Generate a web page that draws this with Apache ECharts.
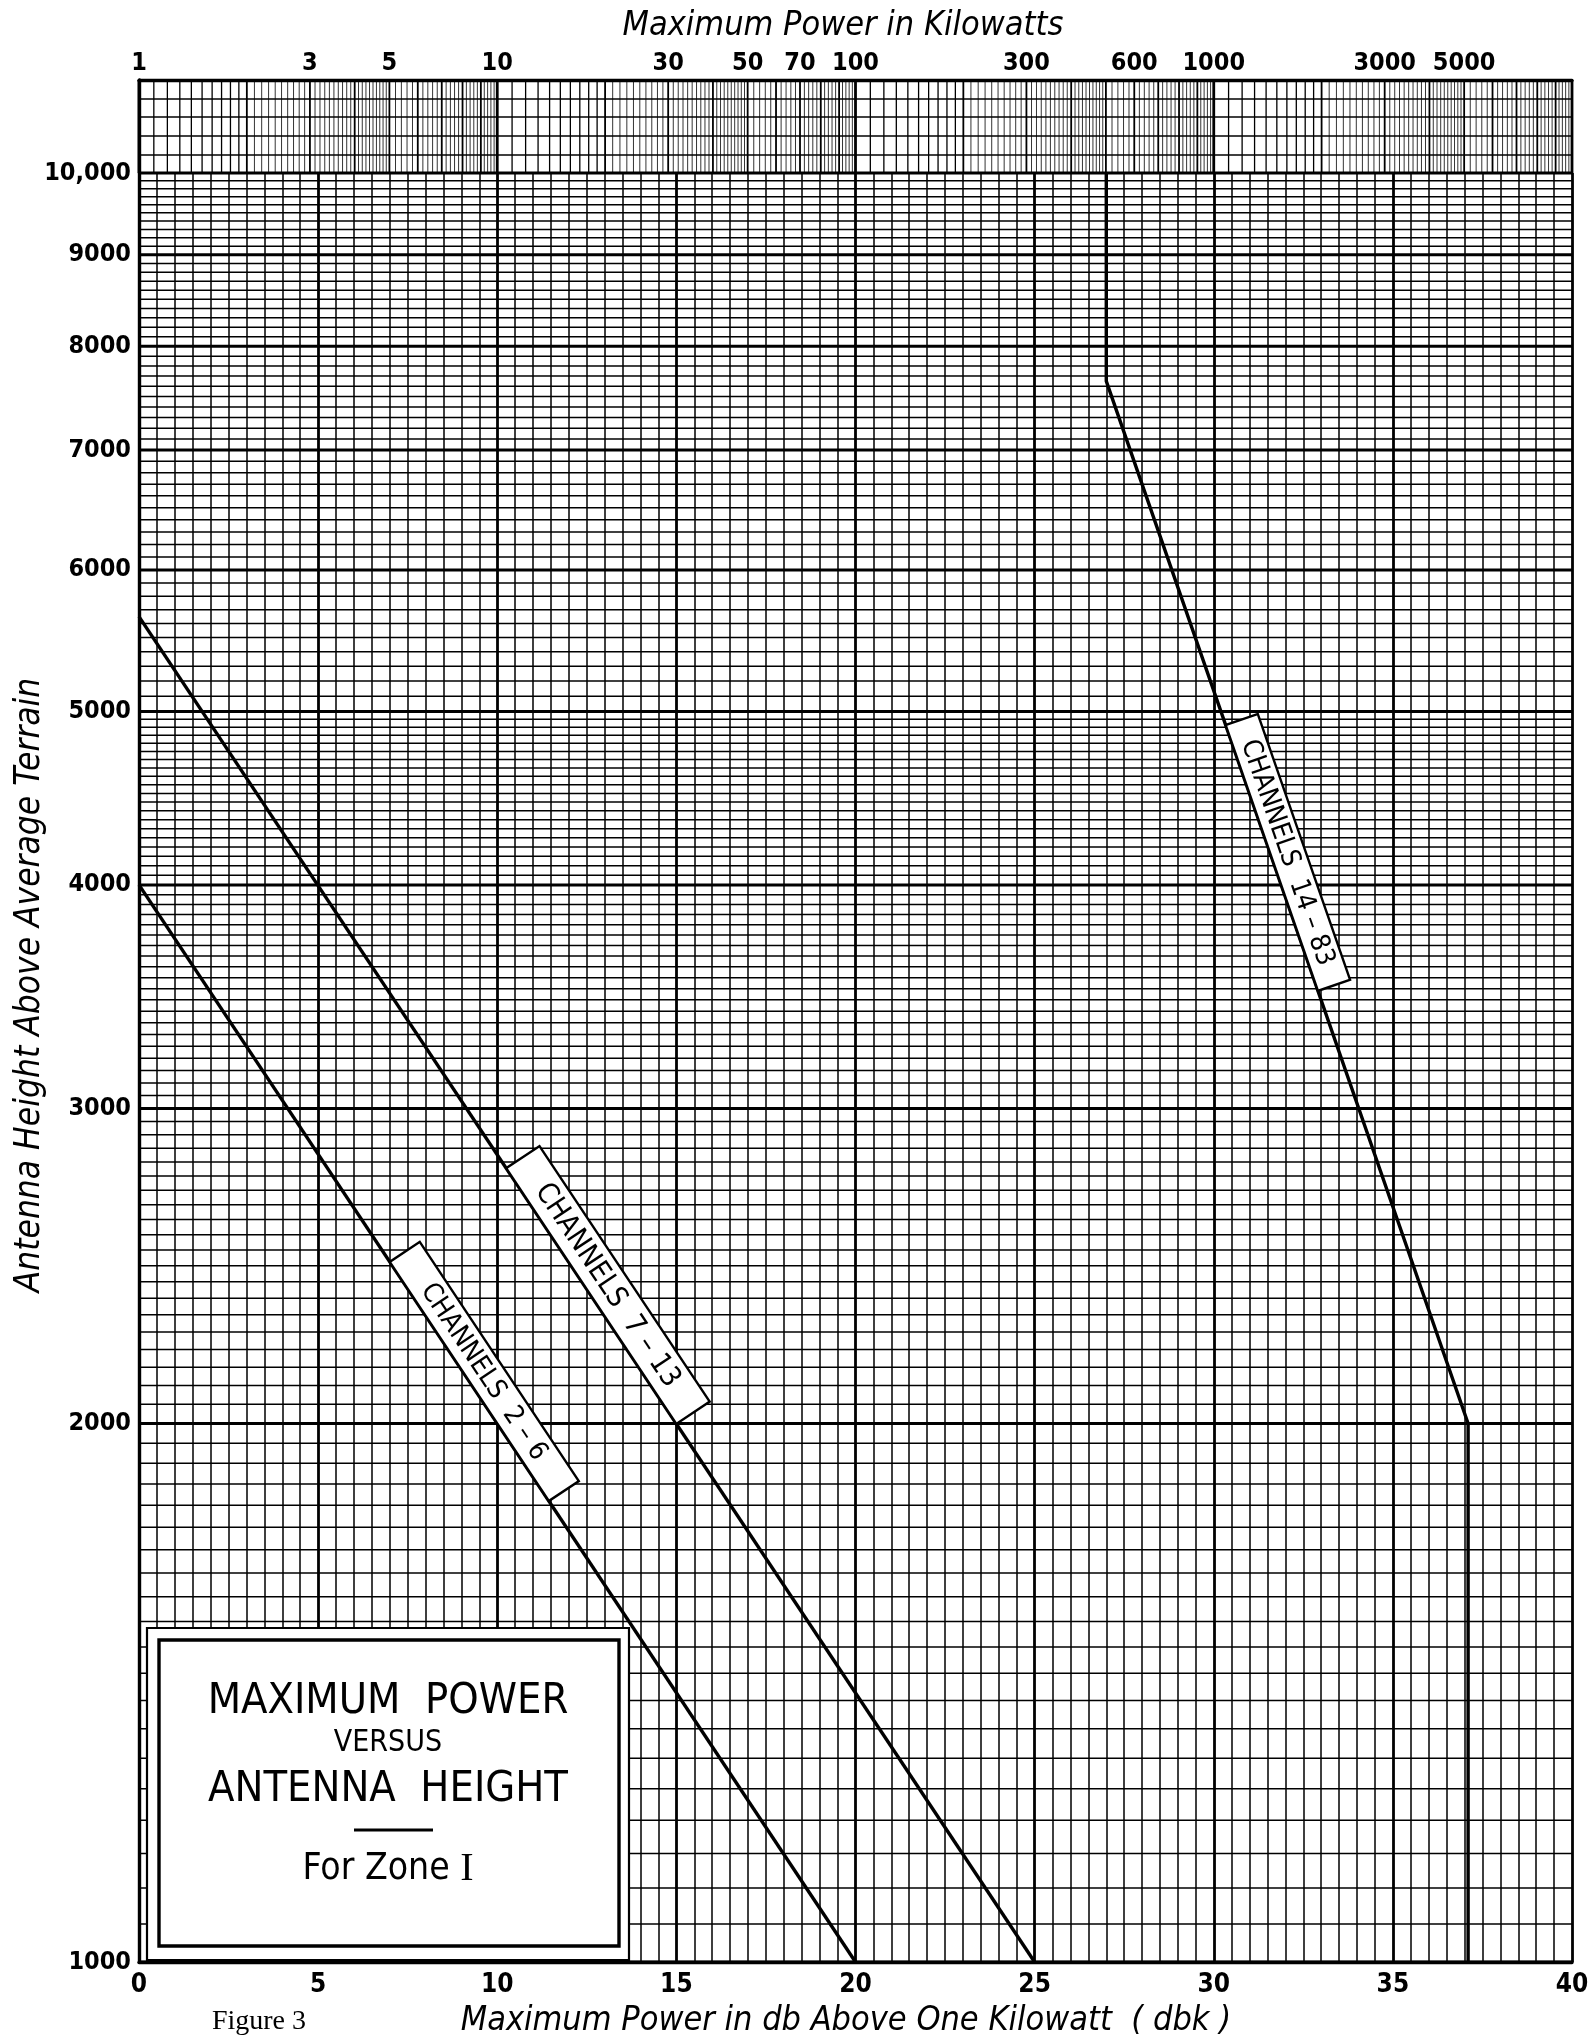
<!DOCTYPE html>
<html><head><meta charset="utf-8">
<script src="https://cdn.jsdelivr.net/npm/echarts@6.0.0/dist/echarts.min.js"></script>
<style>html,body{margin:0;padding:0;background:#fff}#c{width:1592px;height:2038px}</style>
</head><body><div id="c"></div>
<script>
// ---------------- data ----------------
const ch26X = [0, 20];
const ch26Y = [4000, 1000];
const ch713X = [0, 25];
const ch713Y = [5650, 1000];
const ch1483X = [27, 27, 37.1, 37.1];
const ch1483Y = [10000, 7650, 2000, 1000];
const yTickLabels = [1000, 2000, 3000, 4000, 5000, 6000, 7000, 8000, 9000, 10000];
const kwTickLabels = [1, 3, 5, 10, 30, 50, 70, 100, 300, 600, 1000, 3000, 5000];
const lineLabels = ['CHANNELS  2 – 6', 'CHANNELS  7 – 13', 'CHANNELS  14 – 83'];

// ---------------- graph-paper rulings (axis structure) ----------------
const yGridValues = [];
for (let v = 1000; v <= 5000; v += 50) yGridValues.push(v);
for (let v = 5100; v <= 10000; v += 100) yGridValues.push(v);
const kwGridValues = [];
[1, 10, 100, 1000].forEach(d => {
  for (let m = 10; m < 100; m += (m < 50 ? 1 : 2)) kwGridValues.push([+(m * d / 10).toFixed(6), m]);
});
kwGridValues.push([10000, 10]);

// ---------------- styling / layout ----------------
const F = '"Liberation Sans Narrow","DejaVu Sans Condensed","Roboto Condensed","Liberation Sans",sans-serif';
const zip = (xs, ys) => xs.map((x, i) => [x, ys[i]]);
const labelLayout = [
  { p0: [ch26X[0], ch26Y[0]], p1: [ch26X[1], ch26Y[1]], t0: 0.35, t1: 0.572, w: 36, fs: 27 },
  { p0: [ch713X[0], ch713Y[0]], p1: [ch713X[1], ch713Y[1]], t0: 0.41, t1: 0.60, w: 40, fs: 29 },
  { p0: [ch1483X[1], ch1483Y[1]], p1: [ch1483X[2], ch1483Y[2]], t0: 0.33, t1: 0.585, w: 34, fs: 27 }
];
const fmtY = v => v === 10000 ? '10,000' : String(v);

const chart = echarts.init(document.getElementById('c'), null, { renderer: 'canvas' });
const lineSeries = (name, data) => ({
  name, type: 'line', data, xAxisIndex: 0, yAxisIndex: 0, symbol: 'none', z: 5,
  lineStyle: { color: '#000', width: 3.4 }, silent: true, animation: false
});

const option = {
  animation: false,
  backgroundColor: '#fff',
  grid: [
    { left: 139, top: 173, width: 1433, height: 1789, outerBoundsMode: 'none', containLabel: false },
    { left: 139, top: 80, width: 1433, height: 93, outerBoundsMode: 'none', containLabel: false }
  ],
  xAxis: [
    {
      gridIndex: 0, type: 'value', min: 0, max: 40, interval: 5, position: 'bottom',
      axisLine: { show: true, onZero: false, lineStyle: { color: '#000', width: 3.4 } },
      axisTick: { show: false },
      axisLabel: { color: '#000', fontSize: 26, fontWeight: 'bold', fontFamily: F, margin: 10 },
      splitLine: { show: true, lineStyle: { color: '#000', width: 2.8 } },
      minorTick: { show: false, splitNumber: 10 },
      minorSplitLine: { show: true, lineStyle: { color: '#000', width: 1.5 } }
    },
    {
      gridIndex: 1, type: 'log', logBase: 10, min: 1, max: 10000, position: 'top',
      axisLine: { show: true, onZero: false, lineStyle: { color: '#000', width: 3.4 } },
      axisTick: { show: false }, axisLabel: { show: false }, splitLine: { show: false }
    }
  ],
  yAxis: [
    {
      gridIndex: 0, type: 'log', logBase: 10, min: 1000, max: 10000,
      axisLine: { show: true, onZero: false, lineStyle: { color: '#000', width: 3.4 } },
      axisTick: { show: false }, axisLabel: { show: false }, splitLine: { show: false }
    },
    {
      gridIndex: 1, type: 'value', min: 0, max: 5, interval: 1,
      axisLine: { show: true, onZero: false, lineStyle: { color: '#000', width: 3.4 } },
      axisTick: { show: false }, axisLabel: { show: false },
      splitLine: { show: true, lineStyle: { color: '#000', width: 1.5 } }
    }
  ],
  series: [
    { // horizontal rulings of the height scale
      type: 'custom', xAxisIndex: 0, yAxisIndex: 0, silent: true, z: 1, clip: false,
      data: yGridValues.map(v => [0, v]), encode: { x: 0, y: 1 },
      renderItem: (params, api) => {
        const v = api.value(1);
        const a = api.coord([0, v]), b = api.coord([40, v]);
        return { type: 'line', shape: { x1: a[0], y1: a[1], x2: b[0], y2: b[1] },
          style: { stroke: '#000', lineWidth: v % 1000 === 0 ? 3 : 1.5 } };
      }
    },
    { // height tick labels
      type: 'custom', xAxisIndex: 0, yAxisIndex: 0, silent: true, z: 6, clip: false,
      data: yTickLabels.map(v => [0, v]), encode: { x: 0, y: 1 },
      renderItem: (params, api) => {
        const v = api.value(1);
        const p = api.coord([0, v]);
        return { type: 'text', x: p[0] - 8, y: p[1],
          style: { text: fmtY(v), align: 'right', verticalAlign: 'middle', fontSize: 25, fontWeight: 'bold', fontFamily: F, fill: '#000' } };
      }
    },
    { // kW band rulings
      type: 'custom', xAxisIndex: 1, yAxisIndex: 1, silent: true, z: 1, clip: false,
      data: kwGridValues.map(d => [d[0], 0, d[1]]), encode: { x: 0, y: 1 },
      renderItem: (params, api) => {
        const v = api.value(0), m = api.value(2);
        const a = api.coord([v, 0]), b = api.coord([v, 5]);
        const decade = Math.abs(Math.log10(v) - Math.round(Math.log10(v))) < 1e-9;
        const w = decade ? 2.8 : (m % 10 === 0 ? 1.8 : (m < 20 ? 1.3 : 0.8));
        return { type: 'line', shape: { x1: a[0], y1: a[1], x2: b[0], y2: b[1] },
          style: { stroke: '#000', lineWidth: w } };
      }
    },
    { // kW labels
      type: 'custom', xAxisIndex: 1, yAxisIndex: 1, silent: true, z: 6, clip: false,
      data: kwTickLabels.map(v => [v, 5]), encode: { x: 0, y: 1 },
      renderItem: (params, api) => {
        const v = api.value(0);
        const p = api.coord([v, 5]);
        return { type: 'text', x: p[0], y: p[1] - 4,
          style: { text: String(v), align: 'center', verticalAlign: 'bottom', fontSize: 25, fontWeight: 'bold', fontFamily: F, fill: '#000' } };
      }
    },
    lineSeries('Channels 2-6', zip(ch26X, ch26Y)),
    lineSeries('Channels 7-13', zip(ch713X, ch713Y)),
    lineSeries('Channels 14-83', zip(ch1483X, ch1483Y)),
    { // boxed labels along the curves
      type: 'custom', xAxisIndex: 0, yAxisIndex: 0, silent: true, z: 10, clip: false,
      data: lineLabels.map(() => [0, 1000]), encode: { x: 0, y: 1 },
      renderItem: (params, api) => {
        const L = labelLayout[params.dataIndex];
        const a = api.coord(L.p0), b = api.coord(L.p1);
        const dx = b[0] - a[0], dy = b[1] - a[1], len = Math.hypot(dx, dy);
        const ux = dx / len, uy = dy / len;
        const s = [a[0] + dx * L.t0, a[1] + dy * L.t0], e = [a[0] + dx * L.t1, a[1] + dy * L.t1];
        const blen = len * (L.t1 - L.t0);
        const nx = uy, ny = -ux;
        const cx = (s[0] + e[0]) / 2 + nx * L.w / 2, cy = (s[1] + e[1]) / 2 + ny * L.w / 2;
        const ang = Math.atan2(dy, dx);
        return { type: 'group', x: cx, y: cy, rotation: -ang, children: [
          { type: 'rect', shape: { x: -blen / 2, y: -L.w / 2, width: blen, height: L.w },
            style: { fill: '#fff', stroke: '#000', lineWidth: 2.4 } },
          { type: 'text', x: 0, y: 1, style: { text: lineLabels[params.dataIndex], align: 'center', verticalAlign: 'middle',
            fontSize: L.fs, fontWeight: 500, fontFamily: F, fill: '#000' } }
        ] };
      }
    }
  ],
  graphic: [
    { type: 'text', x: 843, y: 26, z: 100, style: { text: 'Maximum Power in Kilowatts', align: 'center', verticalAlign: 'middle',
      fontSize: 34, fontStyle: 'italic', fontFamily: F, fill: '#000' } },
    { type: 'text', x: 846, y: 2021, z: 100, style: { text: 'Maximum Power in db Above One Kilowatt  ( dbk )', align: 'center', verticalAlign: 'middle',
      fontSize: 34, fontStyle: 'italic', fontFamily: F, fill: '#000' } },
    { type: 'text', x: 259, y: 2022, z: 100, style: { text: 'Figure 3', align: 'center', verticalAlign: 'middle',
      fontSize: 28, fontFamily: '"Liberation Serif","DejaVu Serif",serif', fill: '#000' } },
    { type: 'text', x: 30, y: 985, rotation: Math.PI / 2, z: 100, style: { text: 'Antenna Height Above Average Terrain', align: 'center', verticalAlign: 'middle',
      fontSize: 35, fontStyle: 'italic', fontFamily: F, fill: '#000' } },
    { type: 'group', z: 100, children: [
      { type: 'rect', shape: { x: 147, y: 1628, width: 482, height: 332 }, z: 100, style: { fill: '#fff', stroke: '#000', lineWidth: 2.2 } },
      { type: 'rect', shape: { x: 159, y: 1640, width: 460, height: 306 }, z: 101, style: { fill: '#fff', stroke: '#000', lineWidth: 3.4 } },
      { type: 'text', x: 388, y: 1702, z: 102, style: { text: 'MAXIMUM  POWER', align: 'center', verticalAlign: 'middle', fontSize: 43, fontWeight: 500, fontFamily: F, fill: '#000' } },
      { type: 'text', x: 388, y: 1743, z: 102, style: { text: 'VERSUS', align: 'center', verticalAlign: 'middle', fontSize: 30, fontWeight: 500, fontFamily: F, fill: '#000' } },
      { type: 'text', x: 388, y: 1790, z: 102, style: { text: 'ANTENNA  HEIGHT', align: 'center', verticalAlign: 'middle', fontSize: 43, fontWeight: 500, fontFamily: F, fill: '#000' } },
      { type: 'line', z: 102, shape: { x1: 354, y1: 1830, x2: 433, y2: 1830 }, style: { stroke: '#000', lineWidth: 3 } },
      { type: 'text', x: 388, y: 1869, z: 102, style: {
        text: '{a|For Zone }{b|I}', align: 'center', verticalAlign: 'middle', fill: '#000',
        rich: { a: { fontSize: 37, fontFamily: F }, b: { fontSize: 40, fontFamily: '"Liberation Serif","DejaVu Serif",serif' } } } }
    ] }
  ]
};
chart.setOption(option);
</script>
</body></html>
